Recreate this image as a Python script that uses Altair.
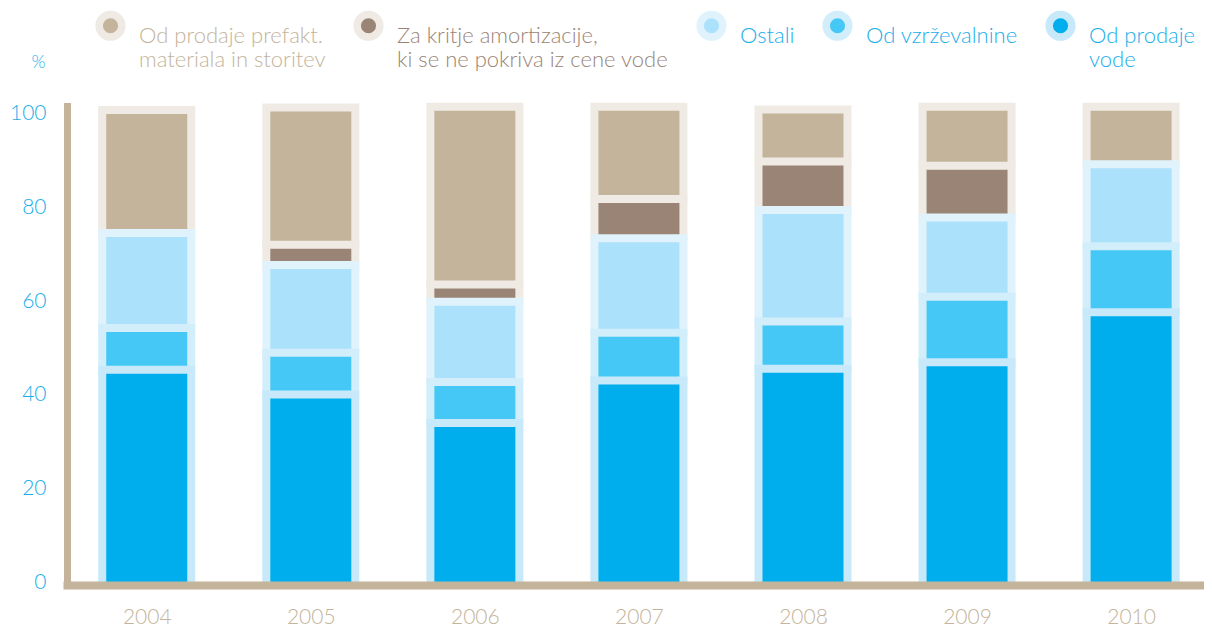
import altair as alt
import pandas as pd

# ---- data (percent shares per year) ----
years = [2004, 2005, 2006, 2007, 2008, 2009, 2010]
od_prodaje_vode = [44.5, 39.2, 33.1, 42.2, 44.7, 46.1, 56.8]
od_vzrzevalnine = [8.9, 8.9, 8.8, 10.2, 10.1, 14.0, 14.1]
ostali = [20.3, 18.8, 17.1, 20.2, 23.8, 16.9, 17.5]
za_kritje_amortizacije = [0.0, 4.3, 3.7, 8.4, 10.4, 11.1, 0.0]
od_prodaje_prefakt = [26.3, 29.3, 38.0, 19.7, 11.1, 12.6, 12.3]

y_ticks = [0, 20, 40, 60, 80, 100]

# legend keys in display order (left to right)
legend_keys = ["prefakt", "amort", "ostali", "vzr", "voda"]
legend_lines = {
    "prefakt": ["Od prodaje prefakt.", "materiala in storitev"],
    "amort": ["Za kritje amortizacije,", "ki se ne pokriva iz cene vode"],
    "ostali": ["Ostali", " "],
    "vzr": ["Od vzrževalnine", " "],
    "voda": ["Od prodaje", "vode"],
}

# ---- styles ----
inner_col = {"prefakt": "#C3B49B", "amort": "#9A8475", "ostali": "#ABE1FB",
             "vzr": "#45C8F5", "voda": "#00AEEE"}
halo_col = {"prefakt": "#EFEBE4", "amort": "#EFEBE4", "ostali": "#E0F3FC",
            "vzr": "#D2EEFB", "voda": "#C7E9F9"}
label_col = {"prefakt": "#C3B49B", "amort": "#9A8475", "ostali": "#1AAEEA",
             "vzr": "#1AAEEA", "voda": "#1AAEEA"}
BEIGE = "#C3B49B"
BLUE = "#1AAEEA"
FONT = "Lato"

stack_order = {"voda": 0, "vzr": 1, "ostali": 2, "amort": 3, "prefakt": 4}
series_vals = {"voda": od_prodaje_vode, "vzr": od_vzrzevalnine, "ostali": ostali,
               "amort": za_kritje_amortizacije, "prefakt": od_prodaje_prefakt}

rows = []
for key, vals in series_vals.items():
    for yr, v in zip(years, vals):
        rows.append({"year": yr, "series": key, "value": v, "order": stack_order[key]})
df = pd.DataFrame(rows)

base = alt.Chart(df).transform_stack(
    stack="value", groupby=["year"], as_=["lo", "hi"],
    sort=[alt.SortField("order", order="ascending")],
)

x_enc = alt.X(
    "year:Q",
    scale=alt.Scale(domain=[2003.514, 2010.426], nice=False, zero=False, padding=0),
    axis=alt.Axis(values=years, format="d", title=None, grid=False, ticks=False,
                  labelColor=BEIGE, labelFont=FONT, labelFontSize=21, labelPadding=21,
                  domainColor=BEIGE, domainWidth=8, domainCap="square", offset=3,
                  zindex=1, labelFontWeight=300),
)
y_enc = alt.Y(
    "lo:Q",
    scale=alt.Scale(domain=[0, 101.7], nice=False),
    axis=alt.Axis(values=y_ticks, title="%", titleAngle=0, titleX=-29, titleY=-44,
                  titleAlign="center", titleBaseline="middle", titleColor=BLUE,
                  titleFont=FONT, titleFontSize=18, titleFontWeight=300,
                  labelColor=BLUE, labelFont=FONT, labelFontSize=21, labelPadding=21,
                  labelFontWeight=300,
                  ticks=False, grid=False, domainColor=BEIGE, domainWidth=7,
                  domainCap="square", zindex=1),
)

layers = []
for key in ["prefakt", "amort", "ostali", "vzr", "voda"]:
    f = base.transform_filter(f"datum.series == '{key}' && datum.value > 0")
    layers.append(
        f.mark_bar(size=97, y2Offset=-8, color=halo_col[key]).encode(x=x_enc, y=y_enc, y2="hi:Q")
    )
    layers.append(
        f.mark_bar(size=81, color=inner_col[key]).encode(x=x_enc, y=y_enc, y2="hi:Q")
    )

label_expr = " : ".join(
    f"datum.value == '{k}' ? [" + ", ".join(f"'{t}'" for t in legend_lines[k]) + "]"
    for k in legend_keys
) + " : datum.label"
color_expr = " : ".join(
    f"datum.value == '{k}' ? '{label_col[k]}'" for k in legend_keys
) + " : '#1AAEEA'"

leg = alt.Legend(
    title=None, orient="none", legendX=28, legendY=-96, direction="horizontal",
    symbolType="circle", symbolSize=511, symbolStrokeWidth=7.5,
    labelFont=FONT, labelFontSize=22, labelFontWeight=300, labelExpr=label_expr,
    labelColor={"expr": color_expr}, labelLimit=400, columnPadding=16,
    labelOffset=13, labelBaseline="top", padding=0,
)

leg_df = pd.DataFrame({"series": legend_keys})
legend_layer = alt.Chart(leg_df).transform_filter("false").mark_point(
    filled=True, size=511, strokeWidth=7.5, opacity=1, shape="circle"
).encode(
    fill=alt.Fill("series:N", scale=alt.Scale(domain=legend_keys,
                  range=[inner_col[k] for k in legend_keys]), legend=leg),
    stroke=alt.Stroke("series:N", scale=alt.Scale(domain=legend_keys,
                      range=[halo_col[k] for k in legend_keys]), legend=leg),
)

chart = alt.layer(*layers, legend_layer).properties(
    width=1134, height=476,
    autosize=alt.AutoSizeParams(type="none"),
    padding={"left": 59, "top": 98, "right": 3, "bottom": 44},
).configure_view(stroke=None)

chart.save("out.html", embed_options={"renderer": "svg", "actions": False})
